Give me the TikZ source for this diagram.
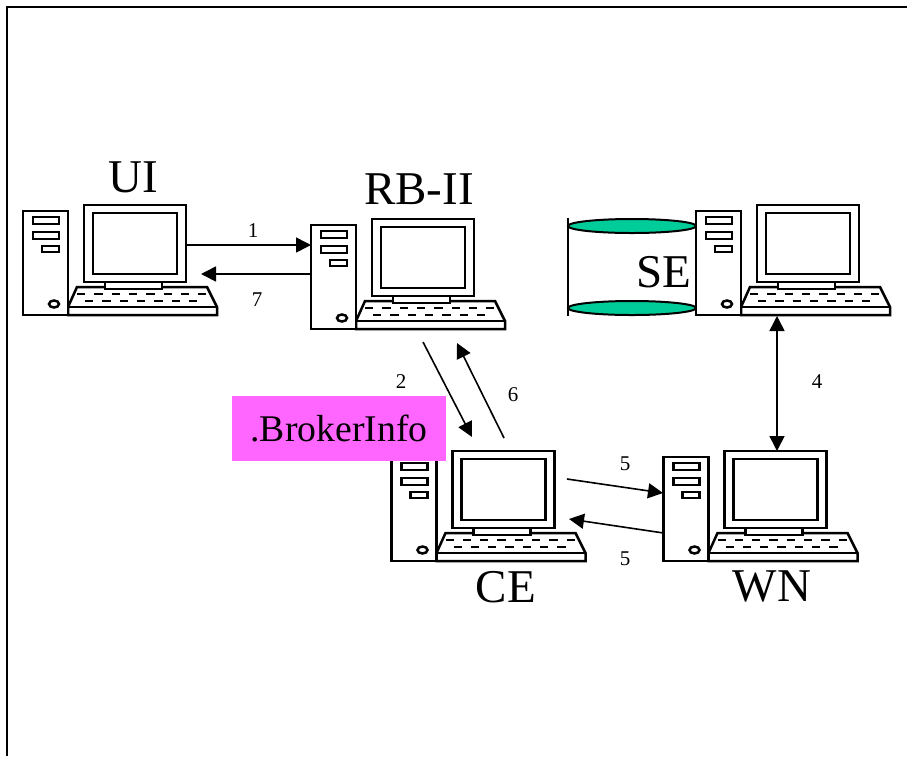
\documentclass[tikz,border=0pt]{standalone}
\usepackage{fontspec}
\setmainfont{Liberation Serif}
\usetikzlibrary{arrows.meta,calc}
\definecolor{seteal}{RGB}{0,204,153}
\definecolor{brokerpink}{RGB}{255,102,255}
\tikzset{pin/.style={-{Triangle[length=15pt, width=15pt]}, line width=1.6pt},
  pc/.style={anchor=north west, inner sep=0pt, minimum width=197pt, minimum height=113pt},
  big/.style={anchor=base, inner sep=0pt, font=\fontsize{47}{50}\selectfont},
  num/.style={anchor=base, inner sep=0pt, font=\fontsize{21}{24}\selectfont},
  computer/.pic={
    \begin{scope}[line width=2.5pt, fill=white]
      % keyboard
      \filldraw (55,83) -- (185,83) -- (195,103) -- (195,111) -- (46,111) -- (46,103) -- cycle;
      \draw (46,103) -- (195,103);
      \draw[dash pattern=on 8.3pt off 9pt] (55,90) -- (185,90);
      \draw[dash pattern=on 8.3pt off 9pt] (63,97) -- (176,97);
      % monitor
      \filldraw (83,78) rectangle (140,85);
      \filldraw (62,1) rectangle (164,78);
      \filldraw (71,9) rectangle (155,70);
      % tower
      \filldraw (1,7) rectangle (46,111);
      \filldraw (11,13) rectangle (37,20);
      \filldraw (11,28) rectangle (37,35);
      \filldraw (20,42) rectangle (37,48);
      \filldraw (32,100) ellipse (5 and 3.5);
    \end{scope}}}

\begin{document}
\begin{tikzpicture}[x=1pt, y=-1pt]
  \useasboundingbox (0,0) rectangle (907,756);
  \draw[line width=2.2pt] (7,756) -- (7,7) -- (907,7);
  % storage next to the SE machine
  \draw[line width=1.8pt] (568,218) -- (568,316);
  \filldraw[fill=seteal, line width=2pt] (632,226) ellipse (64 and 7);
  \filldraw[fill=seteal, line width=2pt] (632,308) ellipse (64 and 7);
  \foreach \n/\x/\y in {ui/22/204,rb/310/218,se/695/204,ce/390.5/450,wn/662.5/450}{
    \node[pc] (\n) at (\x,\y) {};
    \pic at (\n.north west) {computer};}
  % names
  \node[big] (uilabel) at (133,192) {UI};
  \node[big] (rblabel) at (419,204) {RB-II};
  \node[big] (selabel) at (664,287) {SE};
  \node[big] (celabel) at (506,602) {CE};
  \node[big] (wnlabel) at (772,601) {WN};
  \node[fill=brokerpink, inner sep=0pt, minimum width=214pt, minimum height=65pt,
    font=\fontsize{37.7}{40}\selectfont] (broker) at (339,428.5) {.BrokerInfo};
  % message numbers
  \foreach \t/\m/\x/\y in {1/a/253/237,7/b/257/306,2/c/401/388,6/d/513/401,5/e/625/470,5/f/625/565,4/g/817/388}{
    \node[num] (num\m) at (\x,\y) {\t};}
  % connectors
  \draw[pin] ($(ui.north west)+(164,41)$) -- ($(rb.north west)+(1,27)$);
  \draw[pin] ($(rb.north west)+(2,56)$) -- ($(ui.north west)+(179,70)$);
  \draw[pin] ($(rb.north west)+(113,124)$) -- ($(ce.north west)+(81.5,-13)$);
  \draw[pin] ($(ce.north west)+(113.5,-12)$) -- ($(rb.north west)+(147,125)$);
  \draw[pin] ($(ce.north west)+(176.5,29)$) -- ($(wn.north west)+(0.5,43)$);
  \draw[pin] ($(wn.north west)+(1,83)$) -- ($(ce.north west)+(178.5,69)$);
  \draw[pin, {Triangle[length=15pt, width=15pt]}-{Triangle[length=15pt, width=15pt]}] ($(se.north west)+(82,112)$) -- ($(wn.north west)+(114.5,1)$);
\end{tikzpicture}
\end{document}
